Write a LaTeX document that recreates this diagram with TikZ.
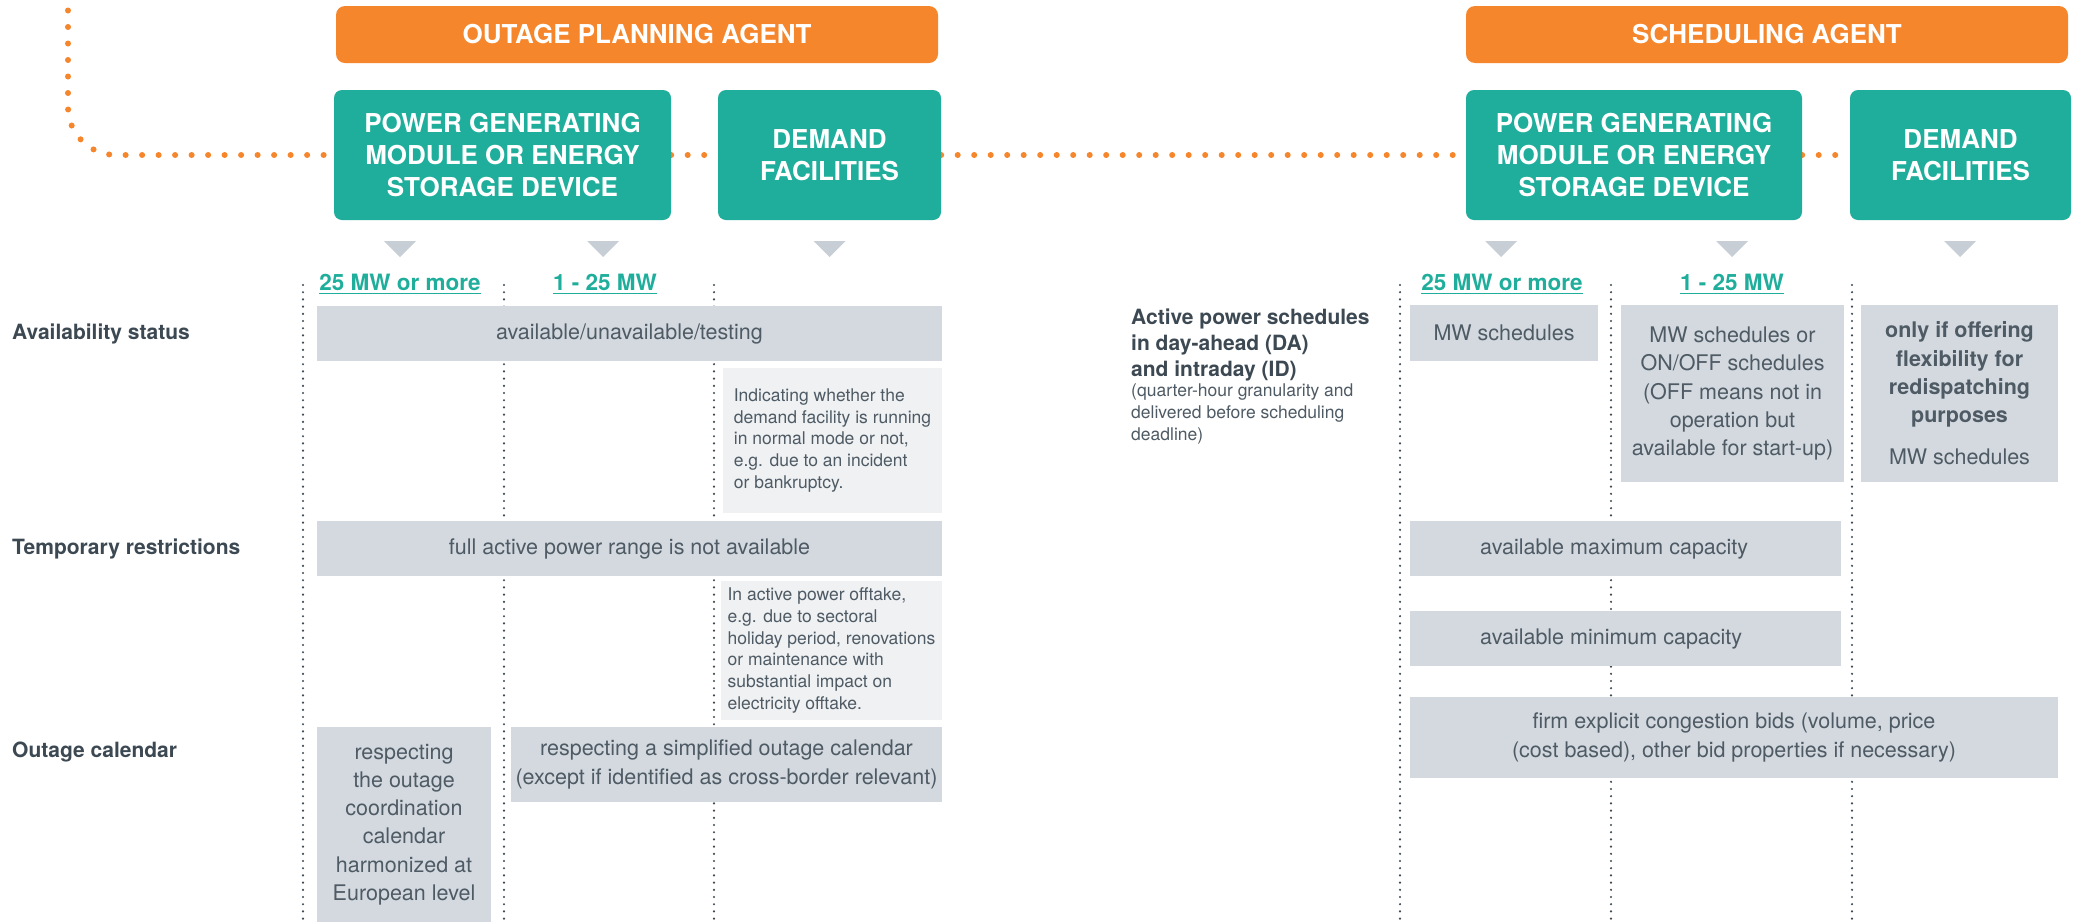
\documentclass[tikz,border=0pt]{standalone}
\usepackage{fontspec}
\setmainfont{TeX Gyre Heros}
\pgfdeclarelayer{bg}
\pgfsetlayers{bg,main}
\definecolor{orng}{HTML}{F5862B}
\definecolor{tealc}{HTML}{1FAE9B}
\definecolor{gboxc}{HTML}{D3D9DF}
\definecolor{lboxc}{HTML}{EFF1F3}
\definecolor{txtc}{HTML}{4E5A64}
\definecolor{lblc}{HTML}{3C4852}
\definecolor{tric}{HTML}{C8CED5}
\definecolor{vdotc}{HTML}{3F4A54}
\begin{document}
\begin{tikzpicture}[x=1pt,y=-1pt,
  agent/.style={fill=orng, rounded corners=9pt, text=white, font=\fontsize{26}{30}\selectfont\bfseries, minimum height=57pt, inner sep=0pt},
  unit/.style={fill=tealc, rounded corners=8pt, text=white, font=\fontsize{26}{32}\selectfont\bfseries, align=center, minimum height=130pt, inner sep=0pt},
  cell/.style={fill=gboxc, text=txtc, font=\fontsize{21.5}{28.3}\selectfont, align=center, inner sep=0pt},
  celltext/.style={text=txtc, font=\fontsize{21.5}{28.3}\selectfont, anchor=west, inner sep=0pt},
  note/.style={fill=lboxc, text=txtc, font=\fontsize{17.5}{21.7}\selectfont, align=left, inner sep=0pt},
  rowlabel/.style={text=lblc, font=\fontsize{21}{26}\selectfont\bfseries, anchor=west, inner sep=0pt, align=left},
  subnote/.style={text=txtc, font=\fontsize{17.5}{22}\selectfont, anchor=north west, inner sep=0pt, align=left},
  sizelabel/.style={text=tealc, font=\fontsize{22.5}{27}\selectfont\bfseries, anchor=base, inner sep=0pt},
  orangedots/.style={draw=orng, line width=6pt, line cap=round, dash pattern=on 0pt off 16.5pt},
  greydots/.style={draw=vdotc, line width=2.4pt, line cap=round, dash pattern=on 0pt off 7.2pt},
  tri/.style={fill=tric},
]
\useasboundingbox (0,0) rectangle (2076,922);
\begin{pgfonlayer}{bg}
\fill[white] (0,0) rectangle (2076,922);
\end{pgfonlayer}

% agents
\node[agent, minimum width=602pt] (opa) at (637,34.5) {OUTAGE PLANNING AGENT};
\node[agent, minimum width=602pt] (sa) at (1767,34.5) {SCHEDULING AGENT};

% units
\node[unit, minimum width=337pt] (pgm1) at (502.5,155) {POWER GENERATING\\MODULE OR ENERGY\\STORAGE DEVICE};
\node[unit, minimum width=223pt] (df1) at (829.5,155) {DEMAND\\FACILITIES};
\node[unit, minimum width=336pt] (pgm2) at (1634,155) {POWER GENERATING\\MODULE OR ENERGY\\STORAGE DEVICE};
\node[unit, minimum width=221pt] (df2) at (1960.5,155) {DEMAND\\FACILITIES};

% orange dotted connector
\coordinate (ostart) at (68,-6);
\begin{pgfonlayer}{bg}
\draw[orangedots, rounded corners=48pt] (ostart) |- (pgm1.west);
\draw[orangedots] (pgm1.east) -- (df1.west);
\draw[orangedots] (df1.east) -- (pgm2.west);
\draw[orangedots] (pgm2.east) -- (df2.west);
\end{pgfonlayer}

% triangles
\foreach \tx in {400,603,829.5,1501,1732,1960}
  \fill[tri] ({\tx-16},241) -- ({\tx+16},241) -- (\tx,257) -- cycle;

% size labels
\node[sizelabel] (s1) at (400,290) {25 MW or more};
\node[sizelabel] (s2) at (605,290) {1 - 25 MW};
\node[sizelabel] (s3) at (1502,290) {25 MW or more};
\node[sizelabel] (s4) at (1732,290) {1 - 25 MW};
\foreach \n in {s1,s2,s3,s4}
  \draw[tealc, line width=1.6pt] ([yshift=-3.5pt]\n.base west) -- ([yshift=-3.5pt]\n.base east);

% vertical grey dotted lines
\foreach \vx/\vn in {303/a,504/b,714/c,1400/d,1611/e,1852/f}{
  \coordinate (vt\vn) at (\vx,285);
  \coordinate (vb\vn) at (\vx,922);
  \draw[greydots] (vt\vn) -- (vb\vn);
}

% row labels
\node[rowlabel] (ravail) at (12,334) {Availability status};
\node[rowlabel] (rtemp) at (12,549) {Temporary restrictions};
\node[rowlabel] (rcal) at (12,752) {Outage calendar};
\node[rowlabel, anchor=north west] (raps) at (1131,309) {Active power schedules\\in day-ahead (DA)\\and intraday (ID)};
\node[subnote] (rapsn) at (1131,384) {(quarter-hour granularity and\\delivered before scheduling\\deadline)};

% outage planning cells
\node[cell, minimum width=625pt, minimum height=55pt] (c1) at (629.5,333.5) {available/unavailable/testing};
\node[note, minimum width=219pt, minimum height=145pt] (n1) at (832.5,440.5) {Indicating whether the\\demand facility is running\\in normal mode or not,\\e.g. due to an incident\\or bankruptcy.};
\node[cell, minimum width=625pt, minimum height=55pt] (c2) at (629.5,548.5) {full active power range is not available};
\node[note, minimum width=221pt, minimum height=139pt] (n2) at (831.5,650.5) {In active power offtake,\\e.g. due to sectoral\\holiday period, renovations\\or maintenance with\\substantial impact on\\electricity offtake.};
\node[cell, minimum width=174pt, minimum height=195pt] (c3) at (404,824.5) {respecting\\the outage\\coordination\\calendar\\harmonized at\\European level};
\node[cell, minimum width=431pt, minimum height=75pt] (c4) at (726.5,764.5) {respecting a simplified outage calendar\\(except if identified as cross-border relevant)};

% scheduling cells
\node[cell, minimum width=188pt, minimum height=56pt] (r1) at (1504,333) {MW schedules};
\node[cell, minimum width=223pt, minimum height=177pt] (r2) at (1732.5,393.5) {MW schedules or\\ON/OFF schedules\\(OFF means not in\\operation but\\available for start-up)};
\node[cell, minimum width=197pt, minimum height=177pt] (r3) at (1959.5,393.5) {{\bfseries only if offering}\\{\bfseries flexibility for}\\{\bfseries redispatching}\\{\bfseries purposes}\\[14pt]MW schedules};
\node[cell, minimum width=431pt, minimum height=55pt] (r4) at (1625.5,548.5) {};
\node[celltext] (r4t) at (1480,548.5) {available maximum capacity};
\node[cell, minimum width=431pt, minimum height=55pt] (r5) at (1625.5,638.5) {};
\node[celltext] (r5t) at (1480,638.5) {available minimum capacity};
\node[cell, minimum width=648pt, minimum height=81pt] (r6) at (1734,737.5) {firm explicit congestion bids (volume, price\\(cost based), other bid properties if necessary)};
\end{tikzpicture}
\end{document}
